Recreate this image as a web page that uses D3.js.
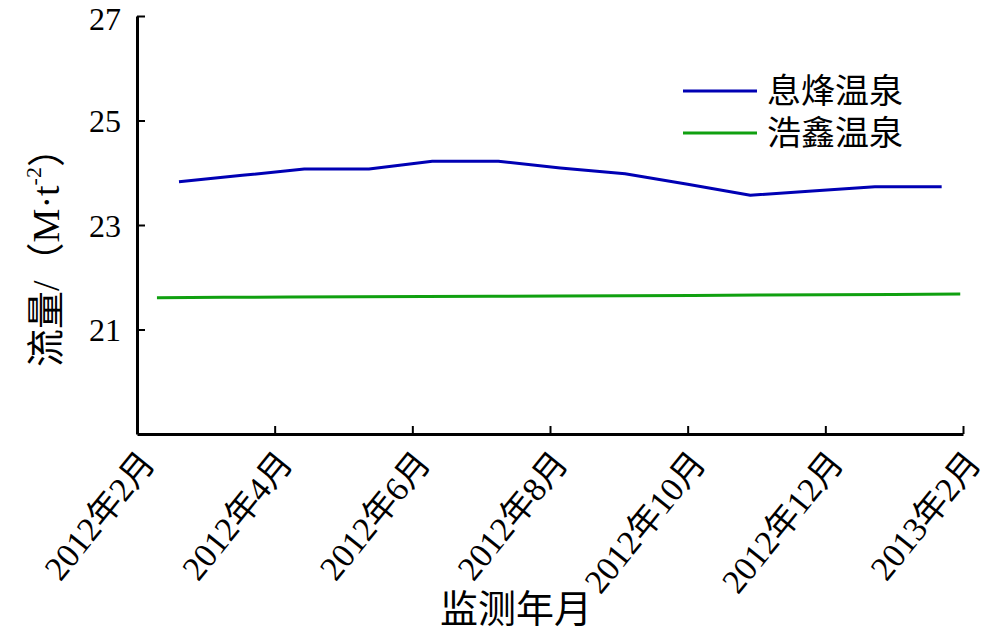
<!DOCTYPE html>
<html><head><meta charset="utf-8">
<script src="https://cdn.jsdelivr.net/npm/d3@7"></script>
<style>
body{margin:0;background:#fff;}
text{font-family:"Liberation Serif","Noto Sans CJK SC",serif;fill:#000;}
</style></head>
<body><svg id="c" width="1000" height="632"></svg>
<script>
// tick labels (month offsets from 2012年2月)
const xTickPos = [0, 2, 4, 6, 8, 10, 12];
const xTickLabels = ["2012年2月","2012年4月","2012年6月","2012年8月","2012年10月","2012年12月","2013年2月"];
const yTicks = [21, 23, 25, 27];

// 息烽温泉
const xifengX = [0.61, 1.53, 2.43, 3.37, 4.29, 5.25, 6.15, 7.09, 8.0, 8.91, 9.81, 10.72, 11.69];
const xifengY = [23.83, 23.95, 24.07, 24.07, 24.22, 24.22, 24.09, 23.98, 23.78, 23.57, 23.65, 23.73, 23.73];
// 浩鑫温泉
const haoxinX = [0.29, 1.26, 2.23, 3.2, 4.18, 5.15, 6.12, 7.1, 8.07, 9.04, 10.01, 10.99, 11.96];
const haoxinY = [21.61, 21.615, 21.62, 21.625, 21.63, 21.635, 21.64, 21.645, 21.65, 21.66, 21.665, 21.67, 21.68];

const seriesNames = ["息烽温泉", "浩鑫温泉"];
const colors = ["#0000b4", "#10a010"];

const svg = d3.select("#c");
const x = d3.scaleLinear().domain([0, 12]).range([137, 963]);
const y = d3.scaleLinear().domain([19, 27]).range([434, 16]);

// y axis
const ya = svg.append("g").attr("transform", "translate(137,0)")
  .call(d3.axisLeft(y).tickValues(yTicks).tickSizeInner(-8).tickSizeOuter(0).tickPadding(16));
ya.select(".domain").attr("stroke", "#000").attr("stroke-width", 3);
ya.selectAll(".tick line").attr("stroke", "#000").attr("stroke-width", 2);
ya.selectAll(".tick text").attr("font-size", 32).attr("x", -16).attr("dy", "0.35em")
  .style("font-family", "'Liberation Serif',serif");
ya.selectAll(".tick").filter(d => d === 27).select("text").attr("dy", "0.42em");

// x axis
const xa = svg.append("g").attr("transform", "translate(0,434)")
  .call(d3.axisBottom(x).tickValues(xTickPos).tickFormat((d, i) => xTickLabels[i]).tickSizeInner(-8).tickSizeOuter(0));
xa.select(".domain").attr("stroke", "#000").attr("stroke-width", 3);
xa.selectAll(".tick line").attr("stroke", "#000").attr("stroke-width", 2);
xa.selectAll(".tick text").attr("font-size", 34).attr("text-anchor", "end")
  .attr("x", 0).attr("y", 0).attr("dy", "0.35em")
  .attr("transform", "translate(10,22) rotate(-51)");

// lines
const line = d3.line().x(d => x(d[0])).y(d => y(d[1]));
const data = [xifengX.map((v, i) => [v, xifengY[i]]), haoxinX.map((v, i) => [v, haoxinY[i]])];
data.forEach((s, i) => {
  svg.append("path").datum(s).attr("d", line).attr("fill", "none")
    .attr("stroke", colors[i]).attr("stroke-width", 3).attr("stroke-linejoin", "round");
});

// legend
seriesNames.forEach((n, i) => {
  const ly = 91 + i * 42;
  svg.append("line").attr("x1", 683).attr("x2", 757).attr("y1", ly).attr("y2", ly)
    .attr("stroke", colors[i]).attr("stroke-width", 3);
  svg.append("text").attr("x", 767).attr("y", ly).attr("dy", "0.36em")
    .attr("font-size", 34).text(n);
});

// axis titles
svg.append("text").attr("x", 516).attr("y", 608).attr("dy", "0.36em").attr("text-anchor", "middle")
  .attr("font-size", 38).text("监测年月");
const yt = svg.append("text").attr("transform", "translate(45,248) rotate(-90)")
  .attr("text-anchor", "middle").attr("dy", "0.36em").attr("font-size", 38);
yt.append("tspan").text("流量/（M·t");
yt.append("tspan").attr("font-size", 22).attr("dy", "-0.8em").text("-2");
yt.append("tspan").attr("dy", "0.5em").text("）");
</script></body></html>
